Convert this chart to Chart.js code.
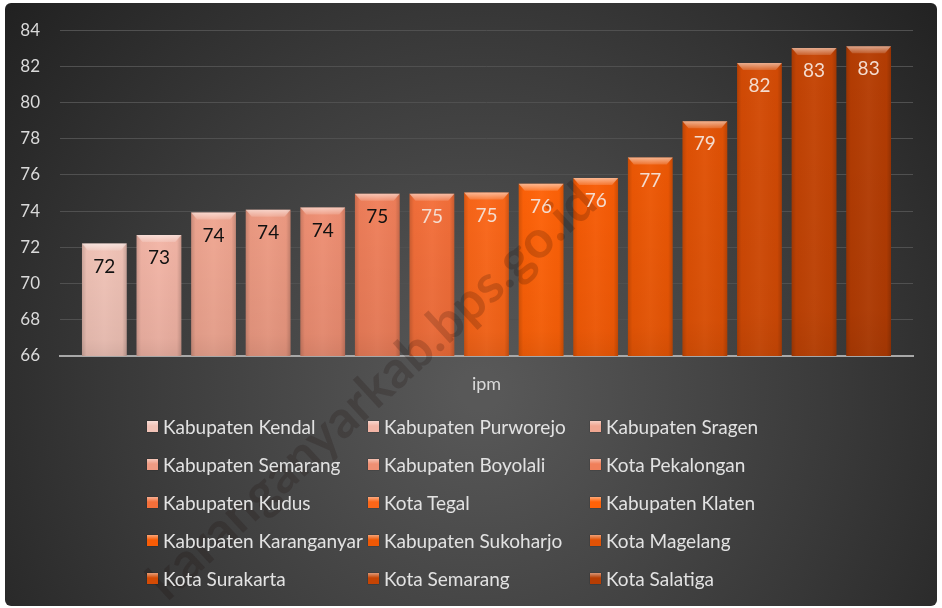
<!DOCTYPE html>
<html>
<head>
<meta charset="utf-8">
<script src="https://cdn.jsdelivr.net/npm/chart.js@4.4.1/dist/chart.umd.min.js"></script>
<style>
  body { margin: 0; background: #fff; }
  #wrap { position: relative; width: 942px; height: 608px; }
  #legend { position: absolute; left: 0; top: 0; width: 942px; height: 608px; pointer-events: none;
            font-family: Lato, "Noto Sans", sans-serif; font-size: 19px; color: #e2e2e2; }
  .item { position: absolute; display: flex; align-items: center; white-space: nowrap; height: 24px; }
  .box { width: 11px; height: 11px; margin-right: 5px; box-shadow: 0 0 1px rgba(0,0,0,.6); }
</style>
</head>
<body>
<div id="wrap">
  <canvas id="chart" width="942" height="608"></canvas>
  <div id="legend"></div>
</div>
<script>
// data
const categories = ['ipm'];
const regions = [
  'Kabupaten Kendal', 'Kabupaten Purworejo', 'Kabupaten Sragen',
  'Kabupaten Semarang', 'Kabupaten Boyolali', 'Kota Pekalongan',
  'Kabupaten Kudus', 'Kota Tegal', 'Kabupaten Klaten',
  'Kabupaten Karanganyar', 'Kabupaten Sukoharjo', 'Kota Magelang',
  'Kota Surakarta', 'Kota Semarang', 'Kota Salatiga'
];
const ipmValues = [72.22, 72.68, 73.93, 74.08, 74.21, 74.97, 74.97, 75.04,
                   75.52, 75.83, 76.96, 78.97, 82.19, 83.02, 83.12];
const yTicks = [66, 68, 70, 72, 74, 76, 78, 80, 82, 84];

// styles
const barColors = ['#f1c3b7', '#f3b5a6', '#f0a691', '#ee9b83', '#ef8f73', '#f07f5a',
                   '#f46f3a', '#fb6618', '#ff6208', '#f85c06', '#ee5805', '#e25205',
                   '#d44b05', '#c54404', '#b63d03'];
const FONT = 'Lato, "Noto Sans", sans-serif';

const background = {
  id: 'background',
  beforeDraw(chart) {
    const c = chart.ctx;
    c.save();
    c.fillStyle = '#fff';
    c.fillRect(0, 0, chart.width, chart.height);
    const g = c.createRadialGradient(480, 390, 20, 480, 390, 620);
    g.addColorStop(0, '#585858');
    g.addColorStop(0.55, '#3a3a3a');
    g.addColorStop(1, '#202020');
    c.fillStyle = g;
    c.beginPath();
    c.roundRect(5, 3, 932, 603, 6);
    c.fill();
    c.restore();
  }
};

const barLook = {
  id: 'barLook',
  afterDatasetsDraw(chart) {
    const c = chart.ctx;
    const area = chart.chartArea;
    c.save();
    chart.data.datasets.forEach((ds, i) => {
      const bar = chart.getDatasetMeta(i).data[0];
      const l = bar.x - bar.width / 2, r = bar.x + bar.width / 2;
      const top = bar.y, bottom = Math.min(bar.base, area.bottom), w = bar.width;
      // side shading
      const g = c.createLinearGradient(l, 0, r, 0);
      g.addColorStop(0, 'rgba(0,0,0,0.16)');
      g.addColorStop(0.1, 'rgba(0,0,0,0.02)');
      g.addColorStop(0.5, 'rgba(255,255,255,0.03)');
      g.addColorStop(0.9, 'rgba(0,0,0,0.02)');
      g.addColorStop(1, 'rgba(0,0,0,0.18)');
      c.fillStyle = g;
      c.fillRect(l, top, w, bottom - top);
      // darker lower part
      const v = c.createLinearGradient(0, top, 0, bottom);
      v.addColorStop(0, 'rgba(0,0,0,0)');
      v.addColorStop(0.85, 'rgba(0,0,0,0.05)');
      v.addColorStop(1, 'rgba(0,0,0,0.1)');
      c.fillStyle = v;
      c.fillRect(l, top, w, bottom - top);
      // top bevel
      const b = c.createLinearGradient(0, top, 0, top + 7);
      b.addColorStop(0, 'rgba(255,255,255,0.55)');
      b.addColorStop(1, 'rgba(255,255,255,0.15)');
      c.fillStyle = b;
      c.beginPath();
      c.moveTo(l, top);
      c.lineTo(r, top);
      c.lineTo(r - 6, top + 7);
      c.lineTo(l + 6, top + 7);
      c.closePath();
      c.fill();
    });
    // watermark
    c.translate(372, 392);
    c.rotate(-42.5 * Math.PI / 180);
    c.font = 'bold 52px ' + FONT;
    c.fillStyle = 'rgba(20,5,0,0.18)';
    c.textAlign = 'center';
    c.textBaseline = 'middle';
    c.fillText('karanganyarkab.bps.go.id', 0, 0);
    c.restore();
  },
  afterDraw(chart) {
    const c = chart.ctx;
    c.save();
    c.font = '19px ' + FONT;
    c.textAlign = 'center';
    c.textBaseline = 'middle';
    chart.data.datasets.forEach((ds, i) => {
      const bar = chart.getDatasetMeta(i).data[0];
      c.fillStyle = i < 6 ? '#111' : '#f4dccf';
      c.fillText(Math.round(ds.data[0]), bar.x, bar.y + 23);
    });
    c.restore();
  }
};

const chart = new Chart(document.getElementById('chart'), {
  type: 'bar',
  data: {
    labels: categories,
    datasets: regions.map((name, i) => ({
      label: name,
      data: [ipmValues[i]],
      backgroundColor: barColors[i],
      borderWidth: 0,
      categoryPercentage: 0.96,
      barPercentage: 0.82
    }))
  },
  options: {
    responsive: false,
    animation: false,
    devicePixelRatio: 1,
    layout: { padding: { top: 25, right: 29, bottom: 202, left: 0 } },
    plugins: { legend: { display: false }, tooltip: { enabled: false } },
    scales: {
      x: {
        grid: { display: false },
        border: { color: '#a8a8a8', width: 2 },
        ticks: { color: '#d9d9d9', font: { family: FONT, size: 18 }, padding: 9 },
        afterFit: s => { s.height = 50; }
      },
      y: {
        min: yTicks[0],
        max: yTicks[yTicks.length - 1],
        afterBuildTicks: s => { s.ticks = yTicks.map(v => ({ value: v })); },
        grid: { color: '#505050', drawTicks: false },
        border: { display: false },
        ticks: { color: '#dadada', font: { family: FONT, size: 17 }, padding: 20 },
        afterFit: s => { s.width = 60; }
      }
    }
  },
  plugins: [background, barLook]
});

// legend, 3 columns
const legend = document.getElementById('legend');
const colX = [147, 368, 590];
chart.data.datasets.forEach((ds, i) => {
  const item = document.createElement('div');
  item.className = 'item';
  item.style.left = colX[i % 3] + 'px';
  item.style.top = (414 + Math.floor(i / 3) * 38) + 'px';
  const box = document.createElement('span');
  box.className = 'box';
  box.style.background = 'linear-gradient(to bottom, rgba(255,255,255,.45), rgba(255,255,255,0) 45%), ' + ds.backgroundColor;
  const txt = document.createElement('span');
  txt.textContent = ds.label;
  item.appendChild(box);
  item.appendChild(txt);
  legend.appendChild(item);
});
</script>
</body>
</html>
